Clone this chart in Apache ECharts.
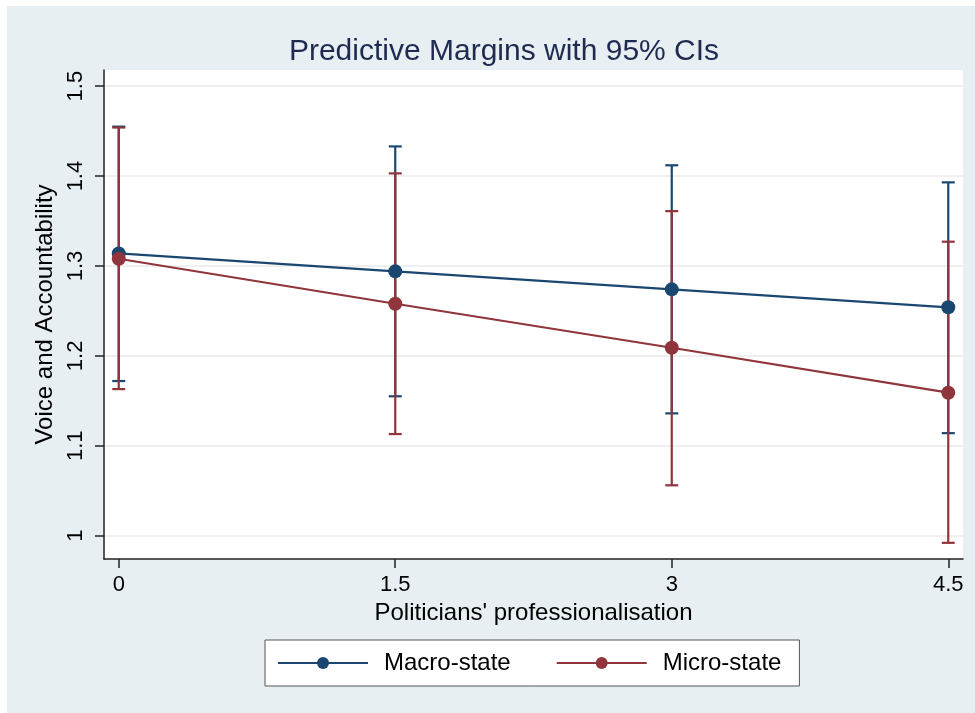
<!DOCTYPE html>
<html>
<head>
<meta charset="utf-8">
<script src="https://cdn.jsdelivr.net/npm/echarts@6/dist/echarts.min.js"></script>
<style>
html,body{margin:0;padding:0;background:#ffffff;}
#chart{width:975px;height:713px;}
</style>
</head>
<body>
<div id="chart"></div>
<script>
var xValues = [0, 1.5, 3, 4.5];
var xTicks = [0, 1.5, 3, 4.5];
var yTicks = [1, 1.1, 1.2, 1.3, 1.4, 1.5];
var macroMean = [1.314, 1.294, 1.274, 1.254];
var macroLo = [1.172, 1.155, 1.136, 1.114];
var macroHi = [1.455, 1.433, 1.412, 1.393];
var microMean = [1.308, 1.258, 1.209, 1.159];
var microLo = [1.163, 1.113, 1.056, 0.992];
var microHi = [1.454, 1.403, 1.361, 1.327];

var macroColor = '#1a476f';
var microColor = '#90353b';
var font = 'Liberation Sans, Arial, sans-serif';

function ciData(lo, hi) {
  return xValues.map(function (x, i) { return [x, lo[i], hi[i]]; });
}
function lineData(m) {
  return xValues.map(function (x, i) { return [x, m[i]]; });
}
function ciRender(color) {
  return function (params, api) {
    var lo = api.coord([api.value(0), api.value(1)]);
    var hi = api.coord([api.value(0), api.value(2)]);
    var hw = 6.5;
    var st = { stroke: color, lineWidth: 2.2 };
    return {
      type: 'group',
      children: [
        { type: 'line', shape: { x1: lo[0], y1: lo[1], x2: hi[0], y2: hi[1] }, style: st },
        { type: 'line', shape: { x1: lo[0] - hw, y1: lo[1], x2: lo[0] + hw, y2: lo[1] }, style: st },
        { type: 'line', shape: { x1: hi[0] - hw, y1: hi[1], x2: hi[0] + hw, y2: hi[1] }, style: st }
      ]
    };
  };
}

var chart = echarts.init(document.getElementById('chart'), null, { renderer: 'canvas' });
chart.setOption({
  backgroundColor: 'transparent',
  animation: false,
  graphic: [{
    type: 'rect', z: -10, silent: true,
    shape: { x: 7, y: 6, width: 968, height: 707 },
    style: { fill: '#e8eff2' }
  }],
  title: {
    text: 'Predictive Margins with 95% CIs',
    left: 499, top: 32, textAlign: 'center',
    textStyle: { color: '#1e2a4f', fontSize: 30, fontWeight: 'normal', fontFamily: font }
  },
  legend: {
    data: ['Macro-state', 'Micro-state'],
    left: 265, top: 640,
    padding: [11, 18, 11, 12],
    itemWidth: 90, itemHeight: 15, itemGap: 45,
    backgroundColor: '#ffffff',
    borderColor: '#555555', borderWidth: 1, borderRadius: 0,
    textStyle: { fontSize: 24, color: '#000', fontFamily: font, padding: [0, 0, 0, 11] }
  },
  grid: {
    left: 104, right: 12, top: 70, bottom: 154,
    show: true, backgroundColor: '#ffffff', borderWidth: 0
  },
  xAxis: {
    type: 'value', min: -0.08, max: 4.58,
    name: "Politicians' professionalisation",
    nameLocation: 'middle', nameGap: 38,
    nameTextStyle: { fontSize: 24, color: '#000', fontFamily: font },
    axisLine: { show: true, onZero: false, lineStyle: { color: '#222', width: 1.5 } },
    axisTick: { show: true, length: 9, customValues: xTicks, lineStyle: { color: '#222', width: 1.5 } },
    axisLabel: { customValues: xTicks, fontSize: 22, color: '#000', margin: 15, fontFamily: font },
    splitLine: { show: false }
  },
  yAxis: {
    type: 'value', min: 0.974, max: 1.518,
    name: 'Voice and Accountability',
    nameLocation: 'middle', nameGap: 41,
    nameTextStyle: { fontSize: 24, color: '#000', fontFamily: font },
    axisLine: { show: true, onZero: false, lineStyle: { color: '#222', width: 1.5 } },
    axisTick: { show: true, length: 9, customValues: yTicks, lineStyle: { color: '#222', width: 1.5 } },
    axisLabel: { customValues: yTicks, rotate: 90, fontSize: 22, color: '#000', margin: 17, fontFamily: font },
    splitLine: { show: true, lineStyle: { color: '#eaeaea', width: 1.5 } }
  },
  series: [
    { type: 'custom', name: 'ci-macro', renderItem: ciRender(macroColor), data: ciData(macroLo, macroHi), encode: { x: 0, y: [1, 2] }, z: 2 },
    { type: 'custom', name: 'ci-micro', renderItem: ciRender(microColor), data: ciData(microLo, microHi), encode: { x: 0, y: [1, 2] }, z: 2 },
    { type: 'line', name: 'Macro-state', data: lineData(macroMean), symbol: 'circle', symbolSize: 14,
      lineStyle: { color: macroColor, width: 2.2 }, itemStyle: { color: macroColor }, z: 3 },
    { type: 'line', name: 'Micro-state', data: lineData(microMean), symbol: 'circle', symbolSize: 14,
      lineStyle: { color: microColor, width: 2.2 }, itemStyle: { color: microColor }, z: 3 }
  ]
});
</script>
</body>
</html>
